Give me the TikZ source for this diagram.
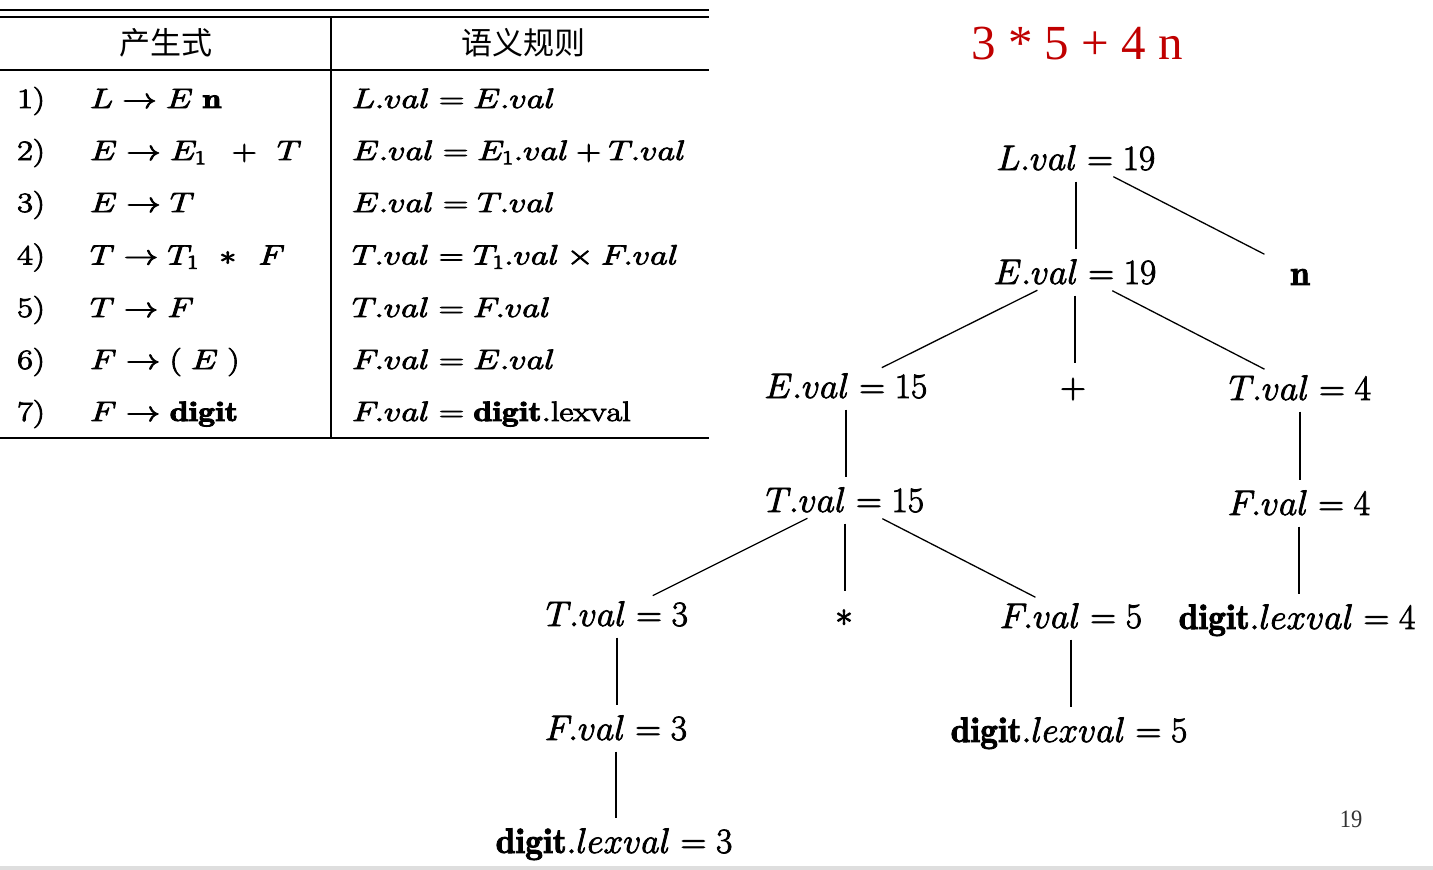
\documentclass[tikz,border=0pt]{standalone}
\usepackage{fix-cm}
\usepackage{fontspec}
\usepackage{graphicx}
\newfontfamily\cjk{Noto Sans CJK SC}
\newfontfamily\libserif{Liberation Serif}
\definecolor{titlered}{RGB}{192,0,0}
\definecolor{stripgray}{RGB}{222,222,222}
\newcommand\hv[1]{\special{pdf:literal direct 2 Tr 0.8 w}#1\special{pdf:literal direct 0 Tr}}
\newcommand\tbx[1]{\scalebox{1.22}[1]{\hv{#1}}}
\tikzset{
  tabtxt/.style={anchor=base west, inner sep=0pt, font=\fontsize{28}{34}\selectfont},
  headtxt/.style={inner sep=0pt, font=\cjk\fontsize{31}{36}\selectfont},
  tnode/.style={anchor=base, inner sep=0pt, text height=25pt, text depth=0pt, font=\fontsize{35.5}{42}\selectfont},
  vedge/.style={line width=1.3pt, shorten <=24pt, shorten >=23pt},
  dedge/.style={line width=1.3pt, shorten <=42pt, shorten >=40pt},
  rulethick/.style={line width=2pt},
  rulethin/.style={line width=1.5pt}
}
\begin{document}
\begin{tikzpicture}[x=1pt,y=-1pt]
\useasboundingbox (0,0) rectangle (1433,870);
\fill[stripgray] (0,866) rectangle (1433,870);

% ---------- table ----------
\draw[rulethick] (0,10) -- (709,10);
\draw[rulethin] (0,17) -- (709,17);
\draw[rulethin] (0,70) -- (709,70);
\draw[rulethick] (0,438) -- (709,438);
\draw[rulethin] (331,17) -- (331,438);

\node[headtxt] (h1) at (166,43) {产生式};
\node[headtxt] (h2) at (523,43) {语义规则};

\foreach \i/\y in {1/108,2/160,3/212,4/264.5,5/317,6/369,7/421}{
  \node[tabtxt] (num\i) at (17,\y) {\tbx{\i)}};
}
\node[tabtxt] (p1) at (90,108) {\tbx{$L \rightarrow E\;\mathbf{n}$}};
\node[tabtxt] (p2) at (90,160) {\tbx{$E \rightarrow E_1\hspace{0.75em}{+}\hspace{0.6em}T$}};
\node[tabtxt] (p3) at (90,212) {\tbx{$E \rightarrow T$}};
\node[tabtxt] (p4) at (90,264.5) {\tbx{$T \rightarrow T_1\hspace{0.6em}{\ast}\hspace{0.65em}F$}};
\node[tabtxt] (p5) at (90,317) {\tbx{$T \rightarrow F$}};
\node[tabtxt] (p6) at (90,369) {\tbx{$F \rightarrow (\;E\;)$}};
\node[tabtxt] (p7) at (90,421) {\tbx{$F \rightarrow \mathbf{digit}$}};

\node[tabtxt] (r1) at (352,108) {\tbx{$L.val = E.val$}};
\node[tabtxt] (r2) at (352,160) {\tbx{$E.val = E_1.val + T.val$}};
\node[tabtxt] (r3) at (352,212) {\tbx{$E.val = T.val$}};
\node[tabtxt] (r4) at (352,264.5) {\tbx{$T.val = T_1.val \times F.val$}};
\node[tabtxt] (r5) at (352,317) {\tbx{$T.val = F.val$}};
\node[tabtxt] (r6) at (352,369) {\tbx{$F.val = E.val$}};
\node[tabtxt] (r7) at (352,421) {\tbx{$F.val = \mathbf{digit}.\mathrm{lexval}$}};

% ---------- title ----------
\node[anchor=base, inner sep=0pt, text=titlered, font=\libserif\fontsize{49}{58}\selectfont] (title) at (1077,59) {3 * 5 + 4 n};

% ---------- tree ----------
\node[tnode] (L)   at (1076,170) {\hv{$L.val = 19$}};
\node[tnode] (n)   at (1300,285) {\hv{$\mathbf{n}$}};
\node[tnode] (E19) at (1075,284) {\hv{$E.val = 19$}};
\node[tnode] (E15) at (846,398)  {\hv{$E.val = 15$}};
\node[tnode] (plus) at (1073,398) {\hv{$+$}};
\node[tnode] (T4)  at (1300,400) {\hv{$T.val = 4$}};
\node[tnode] (T15) at (845,512)  {\hv{$T.val = 15$}};
\node[tnode] (F4)  at (1299,515) {\hv{$F.val = 4$}};
\node[tnode] (T3)  at (617,626)  {\hv{$T.val = 3$}};
\node[tnode] (star) at (844,626) {\hv{$\ast$}};
\node[tnode] (F5)  at (1071,628) {\hv{$F.val = 5$}};
\node[tnode] (d4)  at (1297,629) {\hv{$\mathbf{digit}.lexval = 4$}};
\node[tnode] (F3)  at (616,740)  {\hv{$F.val = 3$}};
\node[tnode] (d5)  at (1069,742) {\hv{$\mathbf{digit}.lexval = 5$}};
\node[tnode] (d3)  at (614,853)  {\hv{$\mathbf{digit}.lexval = 3$}};

\draw[vedge] (L.center) -- (L.center |- E19.center);
\draw[dedge] (L.center) -- (n.center);
\draw[dedge] (E19.center) -- (E15.center);
\draw[vedge] (E19.center) -- (E19.center |- plus.center);
\draw[dedge] (E19.center) -- (T4.center);
\draw[vedge] (E15.center) -- (E15.center |- T15.center);
\draw[vedge] (T4.center) -- (T4.center |- F4.center);
\draw[dedge] (T15.center) -- (T3.center);
\draw[vedge] (T15.center) -- (T15.center |- star.center);
\draw[dedge] (T15.center) -- (F5.center);
\draw[vedge] (F4.center) -- (F4.center |- d4.center);
\draw[vedge] (T3.center) -- (T3.center |- F3.center);
\draw[vedge] (F5.center) -- (F5.center |- d5.center);
\draw[vedge] (F3.center) -- (F3.center |- d3.center);

% ---------- page number ----------
\node[anchor=base, inner sep=0pt, text=black!80, font=\libserif\fontsize{25}{30}\selectfont] (pg) at (1351,827) {\scalebox{0.9}[1]{19}};
\end{tikzpicture}
\end{document}
